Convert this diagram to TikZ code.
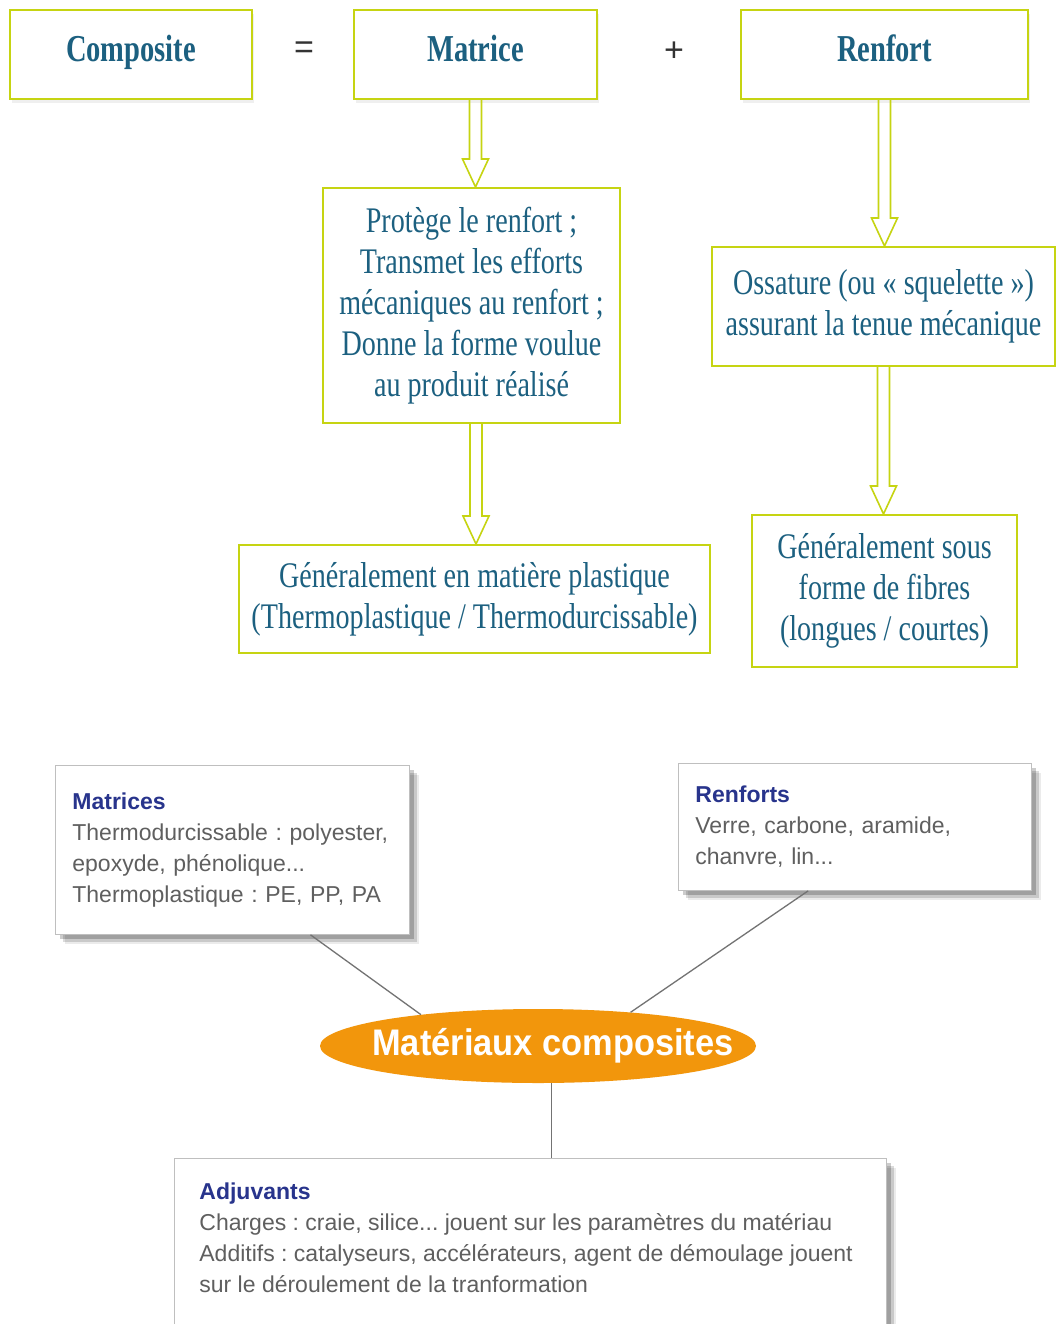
\documentclass[tikz,border=0pt]{standalone}
\usepackage{fontspec}
\setmainfont{Liberation Serif}
\newfontfamily\serifnarrow{Liberation Serif}[FakeStretch=0.78]
\newfontfamily\titlenarrow{Liberation Serif}[FakeStretch=0.75]
\newfontfamily\arialfont{Liberation Sans}
\newfontfamily\ellfont{Liberation Sans}[FakeStretch=0.93]
\usetikzlibrary{shapes.geometric,shadows,calc}
\definecolor{boxgreen}{RGB}{198,212,18}
\definecolor{tealblue}{RGB}{28,96,128}
\definecolor{titleblue}{RGB}{40,52,140}
\definecolor{textgray}{RGB}{95,95,95}
\definecolor{orangefill}{RGB}{242,150,12}
\begin{document}
\begin{tikzpicture}[
	x=1pt, y=-1pt,
	topbox/.style={
		rectangle,
		draw=boxgreen,
		line width=2.5pt,
		fill=white,
		text=tealblue,
		inner sep=0,
		minimum height=89,
		text height=27,
		text depth=12,
		font=\titlenarrow\bfseries\fontsize{38}{40}\selectfont,
		drop shadow={shadow xshift=2pt, shadow yshift=-4pt, fill=black!12, opacity=0.5}
	},
	infobox/.style={
		rectangle,
		draw=boxgreen,
		line width=2pt,
		fill=white,
		text=tealblue,
		align=center,
		inner sep=0,
		font=\serifnarrow\fontsize{36}{41}\selectfont
	},
	sign/.style={
		text=black!80,
		font=\arialfont\fontsize{34}{34}\selectfont
	},
	notebox/.style={
		rectangle,
		draw=black!25,
		line width=0.8pt,
		fill=white,
		text=textgray,
		align=left,
		inner xsep=17,
		font=\arialfont\frenchspacing\fontsize{23}{31}\selectfont,
		drop shadow={shadow xshift=10pt, shadow yshift=-10pt, fill=black, opacity=0.08},
		drop shadow={shadow xshift=7.5pt, shadow yshift=-7.5pt, fill=black, opacity=0.14},
		drop shadow={shadow xshift=5pt, shadow yshift=-5pt, fill=black, opacity=0.2}
	},
	centre/.style={
		ellipse,
		fill=orangefill,
		text=white,
		inner sep=0,
		minimum width=436,
		minimum height=74,
		font=\ellfont\bfseries\fontsize{37}{40}\selectfont
	},
	hollow/.style={
		draw=boxgreen,
		line width=1.6pt,
		to path={let \p1=(\tikztostart), \p2=(\tikztotarget) in
			(\x1-6pt,\y1) -- (\x1-6pt,\y2+28pt) -- (\x1-13pt,\y2+28pt) -- (\x1,\y2)
			-- (\x1+13pt,\y2+28pt) -- (\x1+6pt,\y2+28pt) -- (\x1+6pt,\y1)}
	},
	link/.style={
		draw=black!55,
		line width=1.3pt
	},
]

\path[use as bounding box, fill=white] (0,0) rectangle (1056,1324);

\node[topbox, minimum width=242] (composite) at (131, 54.5) {Composite};
\node[sign] (eqsign) at (304, 50) {=};
\node[topbox, minimum width=243] (matrice) at (475.5, 54.5) {Matrice};
\node[sign] (plussign) at (674, 52) {+};
\node[topbox, minimum width=287] (renfort) at (884.5, 54.5) {Renfort};

\node[infobox, minimum width=297, minimum height=235] (protege) at (471.5, 305.5) {Protège le renfort ;\\ Transmet les efforts\\ mécaniques au renfort ;\\ Donne la forme voulue\\ au produit réalisé};
\node[infobox, minimum width=471, minimum height=108] (plastique) at (474.5, 599) {Généralement en matière plastique\\ (Thermoplastique / Thermodurcissable)};

\node[infobox, minimum width=343, minimum height=119] (ossature) at (883.5, 306.5) {Ossature (ou « squelette »)\\ assurant la tenue mécanique};
\node[infobox, minimum width=265, minimum height=152] (fibres) at (884.5, 591) {Généralement sous\\ forme de fibres\\ (longues / courtes)};

\draw[hollow] (matrice.south) to (protege.north);
\draw[hollow] ($(protege.south)+(4.5,0)$) to (plastique.north);
\draw[hollow] (renfort.south) to (ossature.north);
\draw[hollow] (ossature.south) to (fibres.north);

\node[notebox, anchor=north west, text width=320, minimum height=169] (matrices) at (55, 765) {\textcolor{titleblue}{\bfseries Matrices}\\ Thermodurcissable : polyester,\\ epoxyde, phénolique...\\ Thermoplastique : PE, PP, PA};
\node[notebox, anchor=north west, text width=319, minimum height=127] (renforts) at (678, 763) {\textcolor{titleblue}{\bfseries Renforts}\\ Verre, carbone, aramide,\\ chanvre, lin...};

\node[centre] (ell) at (538, 1046) {\makebox[0pt]{\hspace*{30pt}Matériaux composites}};

\node[notebox, anchor=north west, inner xsep=25, inner ysep=24] (adjuvants) at (174, 1158) {\parbox[t][150pt][t]{662pt}{\raggedright\textcolor{titleblue}{\bfseries Adjuvants}\\ Charges : craie, silice... jouent sur les paramètres du matériau\\ Additifs : catalyseurs, accélérateurs, agent de démoulage jouent\\ sur le déroulement de la tranformation}};

\draw[link] ($(matrices.south west)!0.72!(matrices.south east)$) -- (ell.165);
\draw[link] ($(renforts.south west)!0.368!(renforts.south east)$) -- (ell.20);
\draw[link] (ell.-70) -- (ell.-70 |- adjuvants.north);

\end{tikzpicture}
\end{document}
